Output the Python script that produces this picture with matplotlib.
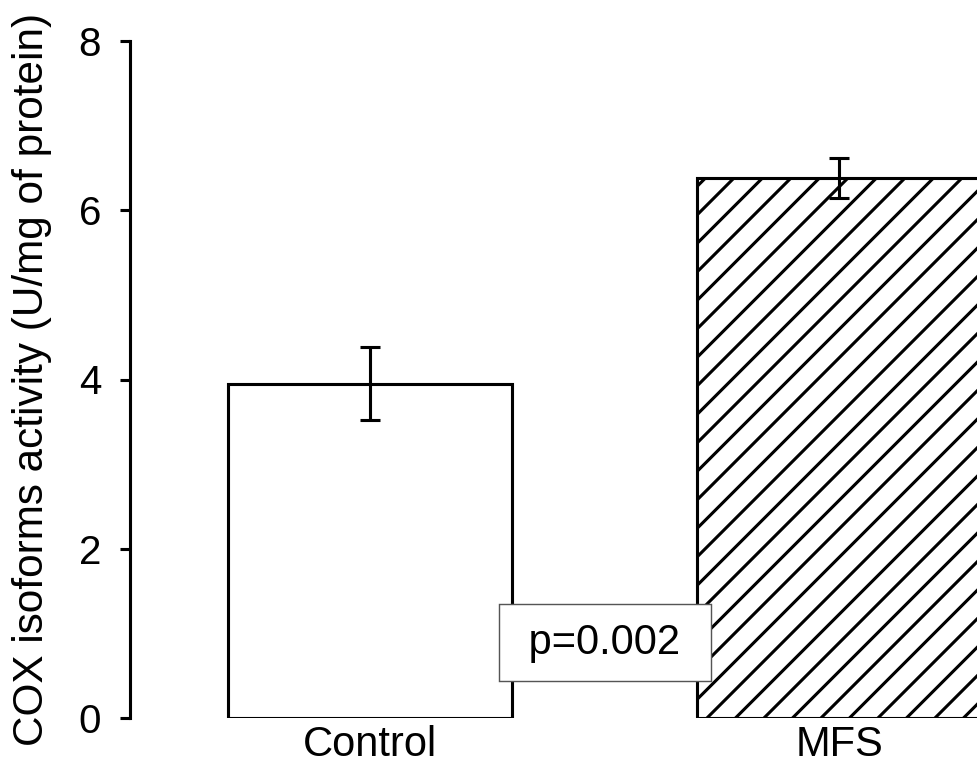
import matplotlib
matplotlib.use("Agg")
from matplotlib import pyplot as plt

# Data
groups = ['Control', 'MFS']
means = [3.95, 6.38]
errors = [0.43, 0.24]
hatches = ['', '//']
p_label = 'p=0.002'

plt.rcParams['font.family'] = ['Liberation Sans', 'DejaVu Sans']
plt.rcParams['hatch.linewidth'] = 1.3

dpi = 171
fig = plt.figure(figsize=(977 / dpi, 768 / dpi), dpi=dpi)
ax = fig.add_axes([130 / 977, 50 / 768, 847 / 977, 677 / 768])

x = list(range(len(groups)))
bars = ax.bar(x, means, width=0.606, color='white', edgecolor='black',
              linewidth=1.3, zorder=2)
for bar, h in zip(bars, hatches):
    bar.set_hatch(h)

ax.errorbar(x, means, yerr=errors, fmt='none', ecolor='black',
            elinewidth=1.3, capsize=4.2, capthick=1.3, zorder=3)

# p-value box between the bars
ax.text(0.5, 0.89, ' ' + p_label + ' ', ha='center', va='center', fontsize=17.5,
        zorder=4,
        bbox=dict(boxstyle='square,pad=0.45', facecolor='white',
                  edgecolor='#555555', linewidth=0.6))

ax.set_xlim(-0.512, 1.294)
ax.set_ylim(0, 8)
ax.set_yticks([0, 2, 4, 6, 8])
ax.set_xticks(x)
ax.set_xticklabels(groups)
ax.set_ylabel('COX isoforms activity (U/mg of protein)', fontsize=17.8,
              labelpad=11)

ax.spines['top'].set_visible(False)
ax.spines['right'].set_visible(False)
ax.spines['bottom'].set_visible(False)
ax.spines['left'].set_linewidth(1.3)
ax.tick_params(axis='y', labelsize=17, length=4.2, width=1.3, pad=8)
ax.tick_params(axis='x', labelsize=17.5, length=0, pad=3)

fig.savefig('out.png', dpi=dpi)
